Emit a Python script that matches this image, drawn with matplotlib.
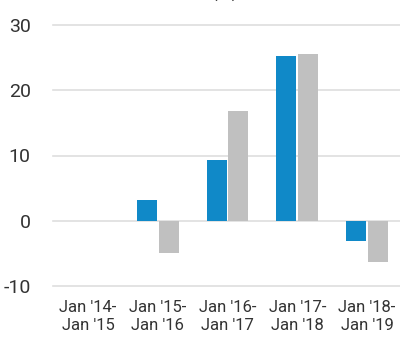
import numpy as np
import matplotlib.pyplot as plt

# ---- data ----
periods = ["Jan '14-\nJan '15", "Jan '15-\nJan '16", "Jan '16-\nJan '17",
           "Jan '17-\nJan '18", "Jan '18-\nJan '19"]
fund = [np.nan, 3.2, 9.3, 25.2, -3.1]
benchmark = [np.nan, -4.9, 16.8, 25.6, -6.3]
yticks = [-10, 0, 10, 20, 30]

plt.rcParams['font.family'] = ['Roboto', 'DejaVu Sans']

fig = plt.figure(figsize=(4.0, 3.44), dpi=100)
ax = fig.add_axes([53 / 400, 1 - 286 / 344, 1 - 53 / 400 + 0.005, (286 - 25) / 344])

x = np.arange(len(periods))
w = 0.286
off = 0.157
ax.bar(x - off, fund, w, color="#1089c8", zorder=3)
ax.bar(x + off, benchmark, w, color="#c0c0c0", zorder=3)

for y in yticks:
    ax.axhline(y, color="#dedede", lw=1.2, zorder=1, clip_on=False)

ax.set_xlim(-0.5, 4.5)
ax.set_ylim(-10, 30)
ax.set_yticks(yticks)
ax.set_yticklabels([str(v) for v in yticks], fontsize=14, color="#333333")
ax.set_xticks(x)
ax.set_xticklabels(periods, fontsize=12, color="#333333", linespacing=1.3)
ax.tick_params(axis="y", length=0, pad=16)
ax.tick_params(axis="x", length=0, pad=10)
for s in ax.spines.values():
    s.set_visible(False)

# title sits mostly above the top edge
fig.text(0.045, 1 + 3 / 344, "Calendar Year Returns (%)", fontsize=13.5, fontweight="bold",
         color="#222222", ha="left", va="baseline")

fig.savefig("out.png", dpi=100)
